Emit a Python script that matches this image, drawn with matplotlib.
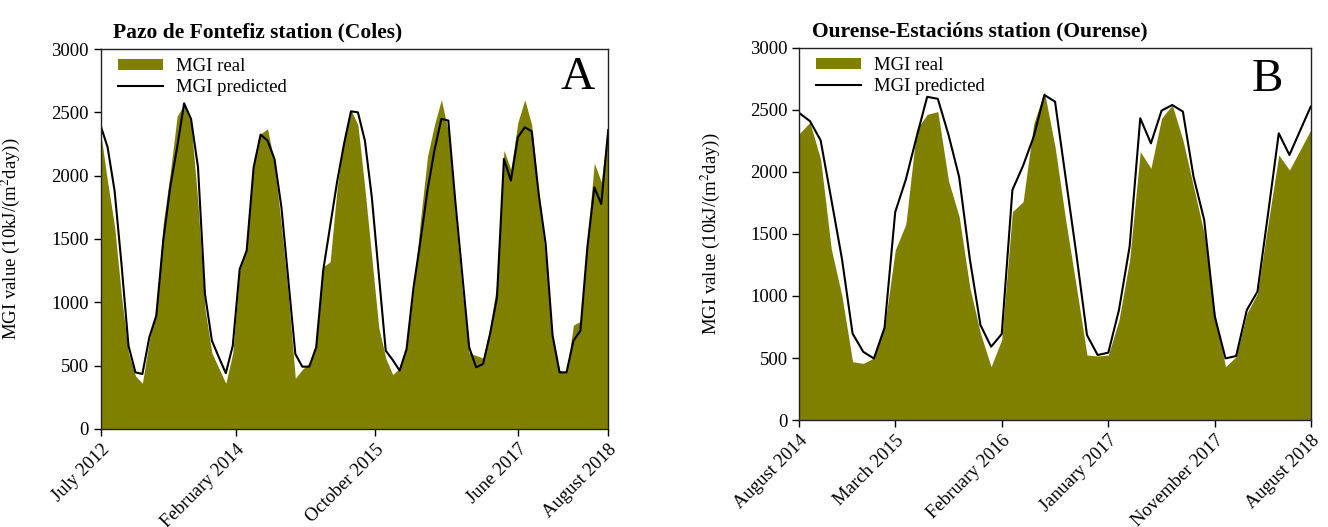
import numpy as np
import matplotlib
matplotlib.use("Agg")
import matplotlib.pyplot as plt
from matplotlib.patches import Patch
from matplotlib.lines import Line2D

# data (monthly MGI, 10kJ/(m2 day))
# panel A: Pazo de Fontefiz, July 2012 - August 2018
real_a = [2340, 1950, 1600, 1050, 600, 420, 360, 700, 950, 1620,
          2020, 2470, 2560, 2420, 1780, 950, 600, 480, 360, 600,
          1250, 1450, 2100, 2330, 2370, 2100, 1600, 1050, 400, 470,
          520, 650, 1280, 1320, 1900, 2300, 2520, 2400, 1900, 1350,
          800, 560, 430, 480, 650, 1100, 1650, 2150, 2400, 2600,
          2350, 1700, 1100, 600, 580, 560, 800, 1150, 2200, 2050,
          2420, 2600, 2400, 1850, 1350, 750, 460, 450, 820, 850,
          1500, 2100, 1950, 2420]
pred_a = [2395, 2224, 1882, 1300, 658, 447, 434, 724, 895, 1487,
          1908, 2224, 2571, 2448, 2066, 1066, 697, 566, 440, 658,
          1263, 1408, 2066, 2324, 2277, 2132, 1750, 1171, 592, 492,
          492, 645, 1250, 1600, 1950, 2250, 2508, 2500, 2277, 1829,
          1224, 618, 545, 461, 632, 1119, 1487, 1882, 2198, 2448,
          2435, 1803, 1224, 645, 487, 513, 750, 1040, 2132, 1961,
          2303, 2382, 2350, 1855, 1461, 737, 447, 447, 697, 776,
          1434, 1908, 1776, 2360]
ticks_a = [0, 19.5, 39.5, 60, 73]
labels_a = ["July 2012", "February 2014", "October 2015", "June 2017", "August 2018"]

# panel B: Ourense-Estacions, August 2014 - August 2018
real_b = [2310, 2400, 2100, 1380, 1000, 470, 457, 500, 750, 1370,
          1580, 2340, 2465, 2487, 1930, 1640, 1070, 700, 430, 650,
          1680, 1760, 2390, 2648, 2204, 1613, 1075, 524, 516, 524,
          806, 1290, 2164, 2030, 2433, 2540, 2258, 1882, 1505, 860,
          430, 511, 860, 1021, 1586, 2137, 2016, 2177, 2339]
pred_b = [2475, 2410, 2255, 1780, 1300, 697, 550, 496, 745, 1677,
          1940, 2280, 2606, 2590, 2300, 1960, 1300, 766, 591, 694,
          1855, 2050, 2285, 2621, 2567, 1952, 1339, 685, 524, 543,
          887, 1398, 2433, 2231, 2495, 2540, 2487, 1962, 1613, 833,
          497, 516, 887, 1035, 1667, 2312, 2137, 2333, 2527]
ticks_b = [0, 9, 19, 29, 39, 48]
labels_b = ["August 2014", "March 2015", "February 2016", "January 2017",
            "November 2017", "August 2018"]

plt.rcParams['font.family'] = ['Liberation Serif', 'DejaVu Serif']
plt.rcParams['mathtext.fontset'] = 'stix'

olive = '#808000'
fs = 13.5

fig = plt.figure(figsize=(13.28, 5.27), dpi=100)
ax1 = fig.add_axes([0.0758, 0.186, 0.3822, 0.721])
ax2 = fig.add_axes([0.6019, 0.203, 0.3851, 0.706])


def draw_panel(ax, real, pred, ticks, labels, title, letter, letter_x, letter_y, ylab_x):
    x = np.arange(len(real))
    ax.fill_between(x, real, 0, color=olive, lw=0)
    ax.plot(x, pred, color='black', lw=1.5)
    ax.set_xlim(0, len(real) - 1)
    ax.set_ylim(0, 3000)
    ax.set_yticks(np.arange(0, 3001, 500))
    ax.set_xticks(ticks)
    ax.set_xticklabels(labels, rotation=45, ha='right', rotation_mode='anchor')
    ax.tick_params(direction='out', length=5, width=1, labelsize=fs,
                   top=False, right=False)
    for s in ax.spines.values():
        s.set_linewidth(1)
        s.set_color('#222222')
    ax.set_title(title, loc='left', fontsize=15.5, fontweight='bold', x=0.025, pad=8)
    ax.set_ylabel("MGI value (10kJ/(m$^2$day))", fontsize=fs)
    ax.yaxis.set_label_coords(ylab_x, 0.5)
    ax.text(letter_x, letter_y, letter, transform=ax.transAxes, fontsize=34,
            ha='center', va='center')
    handles = [Patch(facecolor=olive, edgecolor='none'),
               Line2D([0], [0], color='black', lw=1.5)]
    ax.legend(handles, ["MGI real", "MGI predicted"], loc='upper left',
              frameon=False, fontsize=fs, handlelength=2.4, handleheight=0.5,
              borderaxespad=0.1, labelspacing=0.2, handletextpad=0.7,
              bbox_to_anchor=(0.015, 1.0))


draw_panel(ax1, real_a, pred_a, ticks_a, labels_a,
           "Pazo de Fontefiz station (Coles)", "A", 0.94, 0.924, -0.155)
draw_panel(ax2, real_b, pred_b, ticks_b, labels_b,
           "Ourense-Estacións station (Ourense)", "B", 0.916, 0.914, -0.151)

fig.savefig("out.png", dpi=100)
